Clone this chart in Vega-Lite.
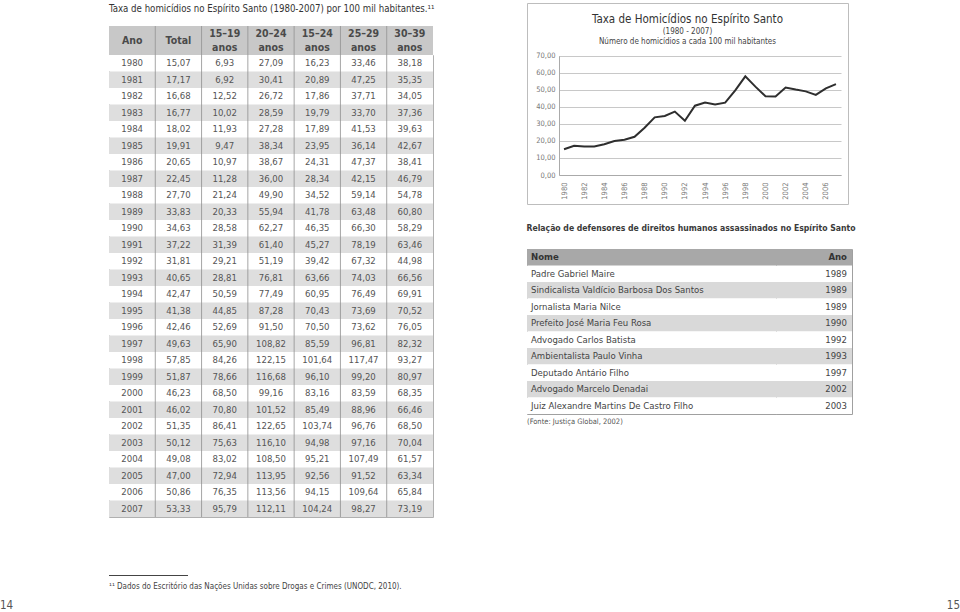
{
  "$schema": "https://vega.github.io/schema/vega-lite/v6.json",
  "background": "white",
  "padding": 0,
  "autosize": {"type": "pad"},
  "config": {
    "view": {"stroke": null},
    "locale": {"number": {"decimal": ",", "thousands": ".", "grouping": [3], "currency": ["R$", ""]}},
    "text": {"font": "DejaVu Sans Condensed, DejaVu Sans, sans-serif"},
    "title": {"font": "DejaVu Sans Condensed, DejaVu Sans, sans-serif", "subtitleFont": "DejaVu Sans Condensed, DejaVu Sans, sans-serif"},
    "axis": {"labelFont": "DejaVu Sans Condensed, DejaVu Sans, sans-serif"}
  },
  "datasets": {
    "homicidios": [
      {"ano": 1980, "Total": 15.07, "a15_19": 6.93, "a20_24": 27.09, "a15_24": 16.23, "a25_29": 33.46, "a30_39": 38.18},
      {"ano": 1981, "Total": 17.17, "a15_19": 6.92, "a20_24": 30.41, "a15_24": 20.89, "a25_29": 47.25, "a30_39": 35.35},
      {"ano": 1982, "Total": 16.68, "a15_19": 12.52, "a20_24": 26.72, "a15_24": 17.86, "a25_29": 37.71, "a30_39": 34.05},
      {"ano": 1983, "Total": 16.77, "a15_19": 10.02, "a20_24": 28.59, "a15_24": 19.79, "a25_29": 33.70, "a30_39": 37.36},
      {"ano": 1984, "Total": 18.02, "a15_19": 11.93, "a20_24": 27.28, "a15_24": 17.89, "a25_29": 41.53, "a30_39": 39.63},
      {"ano": 1985, "Total": 19.91, "a15_19": 9.47, "a20_24": 38.34, "a15_24": 23.95, "a25_29": 36.14, "a30_39": 42.67},
      {"ano": 1986, "Total": 20.65, "a15_19": 10.97, "a20_24": 38.67, "a15_24": 24.31, "a25_29": 47.37, "a30_39": 38.41},
      {"ano": 1987, "Total": 22.45, "a15_19": 11.28, "a20_24": 36.00, "a15_24": 28.34, "a25_29": 42.15, "a30_39": 46.79},
      {"ano": 1988, "Total": 27.70, "a15_19": 21.24, "a20_24": 49.90, "a15_24": 34.52, "a25_29": 59.14, "a30_39": 54.78},
      {"ano": 1989, "Total": 33.83, "a15_19": 20.33, "a20_24": 55.94, "a15_24": 41.78, "a25_29": 63.48, "a30_39": 60.80},
      {"ano": 1990, "Total": 34.63, "a15_19": 28.58, "a20_24": 62.27, "a15_24": 46.35, "a25_29": 66.30, "a30_39": 58.29},
      {"ano": 1991, "Total": 37.22, "a15_19": 31.39, "a20_24": 61.40, "a15_24": 45.27, "a25_29": 78.19, "a30_39": 63.46},
      {"ano": 1992, "Total": 31.81, "a15_19": 29.21, "a20_24": 51.19, "a15_24": 39.42, "a25_29": 67.32, "a30_39": 44.98},
      {"ano": 1993, "Total": 40.65, "a15_19": 28.81, "a20_24": 76.81, "a15_24": 63.66, "a25_29": 74.03, "a30_39": 66.56},
      {"ano": 1994, "Total": 42.47, "a15_19": 50.59, "a20_24": 77.49, "a15_24": 60.95, "a25_29": 76.49, "a30_39": 69.91},
      {"ano": 1995, "Total": 41.38, "a15_19": 44.85, "a20_24": 87.28, "a15_24": 70.43, "a25_29": 73.69, "a30_39": 70.52},
      {"ano": 1996, "Total": 42.46, "a15_19": 52.69, "a20_24": 91.50, "a15_24": 70.50, "a25_29": 73.62, "a30_39": 76.05},
      {"ano": 1997, "Total": 49.63, "a15_19": 65.90, "a20_24": 108.82, "a15_24": 85.59, "a25_29": 96.81, "a30_39": 82.32},
      {"ano": 1998, "Total": 57.85, "a15_19": 84.26, "a20_24": 122.15, "a15_24": 101.64, "a25_29": 117.47, "a30_39": 93.27},
      {"ano": 1999, "Total": 51.87, "a15_19": 78.66, "a20_24": 116.68, "a15_24": 96.10, "a25_29": 99.20, "a30_39": 80.97},
      {"ano": 2000, "Total": 46.23, "a15_19": 68.50, "a20_24": 99.16, "a15_24": 83.16, "a25_29": 83.59, "a30_39": 68.35},
      {"ano": 2001, "Total": 46.02, "a15_19": 70.80, "a20_24": 101.52, "a15_24": 85.49, "a25_29": 88.96, "a30_39": 66.46},
      {"ano": 2002, "Total": 51.35, "a15_19": 86.41, "a20_24": 122.65, "a15_24": 103.74, "a25_29": 96.76, "a30_39": 68.50},
      {"ano": 2003, "Total": 50.12, "a15_19": 75.63, "a20_24": 116.10, "a15_24": 94.98, "a25_29": 97.16, "a30_39": 70.04},
      {"ano": 2004, "Total": 49.08, "a15_19": 83.02, "a20_24": 108.50, "a15_24": 95.21, "a25_29": 107.49, "a30_39": 61.57},
      {"ano": 2005, "Total": 47.00, "a15_19": 72.94, "a20_24": 113.95, "a15_24": 92.56, "a25_29": 91.52, "a30_39": 63.34},
      {"ano": 2006, "Total": 50.86, "a15_19": 76.35, "a20_24": 113.56, "a15_24": 94.15, "a25_29": 109.64, "a30_39": 65.84},
      {"ano": 2007, "Total": 53.33, "a15_19": 95.79, "a20_24": 112.11, "a15_24": 104.24, "a25_29": 98.27, "a30_39": 73.19}
    ],
    "colunas": [
      {"col": "Ano", "etiqueta": "Ano", "linhas": 1},
      {"col": "Total", "etiqueta": "Total", "linhas": 1},
      {"col": "a15_19", "etiqueta": "15–19\nanos", "linhas": 2},
      {"col": "a20_24", "etiqueta": "20–24\nanos", "linhas": 2},
      {"col": "a15_24", "etiqueta": "15–24\nanos", "linhas": 2},
      {"col": "a25_29", "etiqueta": "25–29\nanos", "linhas": 2},
      {"col": "a30_39", "etiqueta": "30–39\nanos", "linhas": 2}
    ],
    "defensores": [
      {"nome": "Padre Gabriel Maire", "ano": 1989},
      {"nome": "Sindicalista Valdício Barbosa Dos Santos", "ano": 1989},
      {"nome": "Jornalista Maria Nilce", "ano": 1989},
      {"nome": "Prefeito José Maria Feu Rosa", "ano": 1990},
      {"nome": "Advogado Carlos Batista", "ano": 1992},
      {"nome": "Ambientalista Paulo Vinha", "ano": 1993},
      {"nome": "Deputado Antário Filho", "ano": 1997},
      {"nome": "Advogado Marcelo Denadai", "ano": 2002},
      {"nome": "Juiz Alexandre Martins De Castro Filho", "ano": 2003}
    ],
    "cabecalho": [{"coluna": "Nome"}, {"coluna": "Ano"}],
    "paginas": [{"lado": "esquerda", "pagina": "14"}, {"lado": "direita", "pagina": "15"}]
  },
  "vconcat": [
    {
      "hconcat": [
        {"width": 109, "height": 1, "data": {"values": []}, "mark": {"type": "point"}},
        {
          "vconcat": [
            {"width": 1, "height": 26, "data": {"values": []}, "mark": {"type": "point"}},
            {
              "width": 324, "height": 29,
              "title": {"text": "Taxa de homicídios no Espírito Santo (1980-2007) por 100 mil habitantes.¹¹", "anchor": "start", "orient": "top", "offset": 12, "fontSize": 9.6, "fontWeight": "normal", "color": "#333"},
              "data": {"name": "colunas"},
              "layer": [
                {"mark": {"type": "rect", "fill": "#c8c8c8"}, "encoding": {"x": {"field": "col", "type": "nominal", "scale": {"domain": ["Ano", "Total", "a15_19", "a20_24", "a15_24", "a25_29", "a30_39"], "paddingInner": 0, "paddingOuter": 0}, "axis": null}}},
                {"transform": [{"filter": "datum.col !== 'Ano'"}], "mark": {"type": "rule", "color": "#9b9b9b", "strokeWidth": 1}, "encoding": {"x": {"field": "col", "type": "nominal", "bandPosition": 0}}},
                {"transform": [{"filter": "datum.linhas === 1"}], "mark": {"type": "text", "fontSize": 10.5, "fontWeight": "bold", "color": "#4a4a4a"}, "encoding": {"x": {"field": "col", "type": "nominal"}, "text": {"field": "etiqueta"}}},
                {"transform": [{"filter": "datum.linhas === 2"}], "mark": {"type": "text", "lineBreak": "\n", "lineHeight": 14, "dy": -7, "fontSize": 10.5, "fontWeight": "bold", "color": "#4a4a4a"}, "encoding": {"x": {"field": "col", "type": "nominal"}, "text": {"field": "etiqueta"}}}
              ]
            },
            {
              "width": 324, "height": 462,
              "view": {"stroke": "#b0b0b0"},
              "data": {"name": "homicidios"},
              "layer": [
                {"mark": {"type": "rect"}, "encoding": {"y": {"field": "ano", "type": "ordinal", "scale": {"paddingInner": 0, "paddingOuter": 0}, "axis": null}, "fill": {"condition": {"test": "datum.ano % 2 === 1", "value": "#dedede"}, "value": "#ffffff"}}},
                {"data": {"name": "colunas"}, "transform": [{"filter": "datum.col !== 'Ano'"}], "mark": {"type": "rule", "color": "#8f8f8f", "strokeWidth": 0.8}, "encoding": {"x": {"field": "col", "type": "nominal", "bandPosition": 0, "scale": {"domain": ["Ano", "Total", "a15_19", "a20_24", "a15_24", "a25_29", "a30_39"], "paddingInner": 0, "paddingOuter": 0}, "axis": null}}},
                {"mark": {"type": "text", "fontSize": 9.5, "color": "#555"}, "encoding": {"x": {"datum": "Ano", "type": "nominal"}, "y": {"field": "ano", "type": "ordinal"}, "text": {"field": "ano", "type": "ordinal"}}},
                {"transform": [{"fold": ["Total", "a15_19", "a20_24", "a15_24", "a25_29", "a30_39"], "as": ["col", "val"]}], "mark": {"type": "text", "fontSize": 9.5, "color": "#555"}, "encoding": {"x": {"field": "col", "type": "nominal"}, "y": {"field": "ano", "type": "ordinal"}, "text": {"field": "val", "type": "quantitative", "format": ".2f"}}}
              ]
            },
            {"width": 1, "height": 58, "data": {"values": []}, "mark": {"type": "point"}},
            {
              "width": 79, "height": 1,
              "view": {"fill": "#444", "stroke": null},
              "title": {"text": "¹¹ Dados do Escritório das Nações Unidas sobre Drogas e Crimes (UNODC, 2010).", "orient": "bottom", "anchor": "start", "offset": 7, "fontSize": 8, "fontWeight": "normal", "color": "#444"},
              "data": {"values": []},
              "mark": {"type": "point"}
            }
          ],
          "spacing": 0, "bounds": "flush", "align": "none"
        },
        {"width": 418, "height": 1, "data": {"values": []}, "mark": {"type": "point"}},
        {
          "vconcat": [
            {"width": 1, "height": 3, "data": {"values": []}, "mark": {"type": "point"}},
            {
              "width": 321, "height": 201,
              "view": {"stroke": "#bdbdbd", "strokeWidth": 1},
              "title": {"text": "Taxa de Homicídios no Espírito Santo", "subtitle": ["(1980 - 2007)", "Número de homicídios a cada 100 mil habitantes"], "anchor": "middle", "frame": "group", "orient": "top", "offset": -43, "fontSize": 11.5, "fontWeight": "normal", "color": "#333", "subtitleFontSize": 8, "subtitleColor": "#444", "subtitlePadding": 3, "subtitleLineHeight": 10},
              "data": {"name": "homicidios"},
              "mark": {"type": "line", "color": "#2e2e2e", "strokeWidth": 2},
              "encoding": {
                "x": {"field": "ano", "type": "ordinal", "scale": {"type": "point", "padding": 0.5, "range": [32, 314]}, "axis": {"orient": "bottom", "offset": -29, "values": [1980, 1982, 1984, 1986, 1988, 1990, 1992, 1994, 1996, 1998, 2000, 2002, 2004, 2006], "labelAngle": -90, "labelAlign": "right", "labelBaseline": "middle", "labelPadding": 7, "labelFontSize": 7.5, "labelColor": "#777", "ticks": false, "domainColor": "#aaa", "title": null, "grid": false}},
                "y": {"field": "Total", "type": "quantitative", "scale": {"domain": [0, 70], "range": [172, 52.7], "nice": false, "zero": false}, "axis": {"orient": "left", "offset": -32, "values": [0, 10, 20, 30, 40, 50, 60, 70], "format": ".2f", "grid": true, "gridColor": "#c8c8c8", "domainColor": "#aaa", "ticks": false, "labelPadding": 4, "labelFontSize": 7.5, "labelColor": "#777", "title": null}}
              }
            },
            {"width": 1, "height": 44.5, "data": {"values": []}, "mark": {"type": "point"}},
            {
              "title": {"text": "Relação de defensores de direitos humanos assassinados no Espírito Santo", "anchor": "start", "orient": "top", "offset": 16, "fontSize": 8.6, "fontWeight": "bold", "color": "#3a3a3a"},
              "hconcat": [
                {
                  "width": 249, "height": 165,
                  "view": {"stroke": "#a0a0a0"},
                  "title": {"text": "(Fonte: Justiça Global, 2002)", "orient": "bottom", "anchor": "start", "offset": 4, "fontSize": 7.5, "fontWeight": "normal", "color": "#555"},
                  "layer": [
                    {"data": {"name": "defensores"}, "transform": [{"window": [{"op": "row_number", "as": "ordem"}]}], "mark": {"type": "rect"}, "encoding": {"y": {"field": "nome", "type": "nominal", "scale": {"domain": ["Nome", "Padre Gabriel Maire", "Sindicalista Valdício Barbosa Dos Santos", "Jornalista Maria Nilce", "Prefeito José Maria Feu Rosa", "Advogado Carlos Batista", "Ambientalista Paulo Vinha", "Deputado Antário Filho", "Advogado Marcelo Denadai", "Juiz Alexandre Martins De Castro Filho"], "paddingInner": 0, "paddingOuter": 0}, "axis": null}, "fill": {"condition": {"test": "datum.ordem % 2 === 0", "value": "#d9d9d9"}, "value": "#ffffff"}}},
                    {"data": {"name": "cabecalho"}, "transform": [{"filter": "datum.coluna === 'Nome'"}], "mark": {"type": "rect", "fill": "#a8a8a8"}, "encoding": {"y": {"datum": "Nome", "type": "nominal"}}},
                    {"data": {"name": "defensores"}, "mark": {"type": "text", "align": "left", "dx": 4, "fontSize": 9.5, "color": "#444"}, "encoding": {"x": {"datum": 0, "type": "quantitative", "scale": {"domain": [0, 1]}, "axis": null}, "y": {"field": "nome", "type": "nominal"}, "text": {"field": "nome"}}},
                    {"data": {"name": "cabecalho"}, "transform": [{"filter": "datum.coluna === 'Nome'"}], "mark": {"type": "text", "align": "left", "dx": 4, "fontSize": 9.5, "fontWeight": "bold", "color": "#333"}, "encoding": {"x": {"datum": 0, "type": "quantitative"}, "y": {"datum": "Nome", "type": "nominal"}, "text": {"field": "coluna"}}}
                  ]
                },
                {
                  "width": 76, "height": 165,
                  "view": {"stroke": "#a0a0a0"},
                  "layer": [
                    {"data": {"name": "defensores"}, "transform": [{"window": [{"op": "row_number", "as": "ordem"}]}], "mark": {"type": "rect"}, "encoding": {"y": {"field": "nome", "type": "nominal", "scale": {"domain": ["Nome", "Padre Gabriel Maire", "Sindicalista Valdício Barbosa Dos Santos", "Jornalista Maria Nilce", "Prefeito José Maria Feu Rosa", "Advogado Carlos Batista", "Ambientalista Paulo Vinha", "Deputado Antário Filho", "Advogado Marcelo Denadai", "Juiz Alexandre Martins De Castro Filho"], "paddingInner": 0, "paddingOuter": 0}, "axis": null}, "fill": {"condition": {"test": "datum.ordem % 2 === 0", "value": "#d9d9d9"}, "value": "#ffffff"}}},
                    {"data": {"name": "cabecalho"}, "transform": [{"filter": "datum.coluna === 'Ano'"}], "mark": {"type": "rect", "fill": "#a8a8a8"}, "encoding": {"y": {"datum": "Nome", "type": "nominal"}}},
                    {"data": {"name": "defensores"}, "mark": {"type": "text", "align": "right", "dx": -5, "fontSize": 9.5, "color": "#444"}, "encoding": {"x": {"datum": 1, "type": "quantitative", "scale": {"domain": [0, 1]}, "axis": null}, "y": {"field": "nome", "type": "nominal"}, "text": {"field": "ano", "type": "ordinal"}}},
                    {"data": {"name": "cabecalho"}, "transform": [{"filter": "datum.coluna === 'Ano'"}], "mark": {"type": "text", "align": "right", "dx": -5, "fontSize": 9.5, "fontWeight": "bold", "color": "#333"}, "encoding": {"x": {"datum": 1, "type": "quantitative"}, "y": {"datum": "Nome", "type": "nominal"}, "text": {"field": "coluna"}}}
                  ]
                }
              ],
              "spacing": 0, "bounds": "flush", "align": "none"
            }
          ],
          "spacing": 0, "bounds": "flush", "align": "none"
        }
      ],
      "spacing": 0, "bounds": "flush", "align": "none"
    },
    {
      "width": 960, "height": 12,
      "data": {"name": "paginas"},
      "layer": [
        {"transform": [{"filter": "datum.lado === 'esquerda'"}], "mark": {"type": "text", "align": "left", "fontSize": 11.5, "color": "#555"}, "encoding": {"x": {"field": "lado", "type": "nominal", "scale": {"type": "point", "padding": 0, "domain": ["esquerda", "direita"]}, "axis": null}, "text": {"field": "pagina"}}},
        {"transform": [{"filter": "datum.lado === 'direita'"}], "mark": {"type": "text", "align": "right", "fontSize": 11.5, "color": "#555"}, "encoding": {"x": {"field": "lado", "type": "nominal"}, "text": {"field": "pagina"}}}
      ]
    }
  ],
  "spacing": 600, "bounds": "flush", "align": "none"
}
